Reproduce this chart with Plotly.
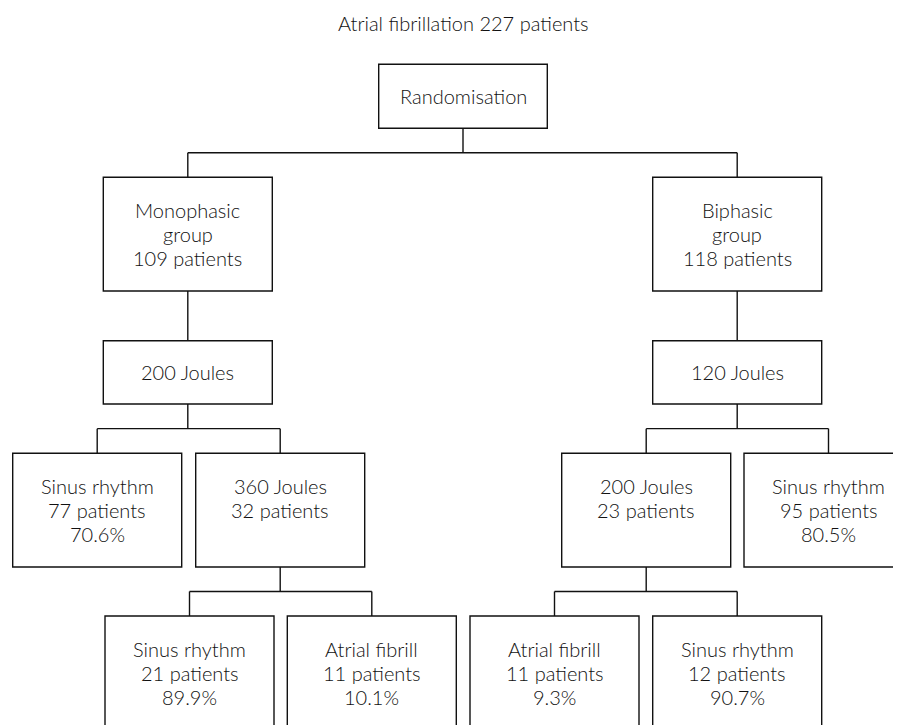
import plotly.graph_objects as go

# ---- content (data) ----
title_text = "Atrial fibrillation 227 patients"
node_ids = ["rand", "mono", "bi", "j200a", "j120", "sr77", "j360", "j200b", "sr95",
            "sr21", "af11a", "af11b", "sr12"]
node_labels = [
    "Randomisation",
    "Monophasic<br>group<br>109 patients",
    "Biphasic<br>group<br>118 patients",
    "200 Joules",
    "120 Joules",
    "Sinus rhythm<br>77 patients<br>70.6%",
    "360 Joules<br>32 patients",
    "200 Joules<br>23 patients",
    "Sinus rhythm<br>95 patients<br>80.5%",
    "Sinus rhythm<br>21 patients<br>89.9%",
    "Atrial fibrill<br>11 patients<br>10.1%",
    "Atrial fibrill<br>11 patients<br>9.3%",
    "Sinus rhythm<br>12 patients<br>90.7%",
]
edges = [("rand", ["mono", "bi"]), ("mono", ["j200a"]), ("bi", ["j120"]),
         ("j200a", ["sr77", "j360"]), ("j120", ["j200b", "sr95"]),
         ("j360", ["sr21", "af11a"]), ("j200b", ["af11b", "sr12"])]

# ---- layout geometry (pixel space) ----
box_left = {"rand": 378.7, "mono": 103.3, "bi": 652.7, "j200a": 103.3, "j120": 652.7,
            "sr77": 12.7, "j360": 195.7, "j200b": 561.7, "sr95": 744.0,
            "sr21": 105.0, "af11a": 287.3, "af11b": 470.0, "sr12": 652.7}
box_top = {"rand": 64.3, "mono": 177.3, "bi": 177.3, "j200a": 340.7, "j120": 340.7,
           "sr77": 453.3, "j360": 453.3, "j200b": 453.3, "sr95": 453.3,
           "sr21": 616.0, "af11a": 616.0, "af11b": 616.0, "sr12": 616.0}
box_w = {"rand": 168.6}
default_w = 169.0
box_h = {"rand": 64.0, "j200a": 63.3, "j120": 63.3}
default_h = 113.7
multi_line_first = 33.0
line_gap = 24.0

FONT = "Lato"
FS = 20
LW = 1.4
PAGE_OFF = 8  # default page body margin

fig = go.Figure()
shapes = []
annotations = []

def geom(n):
    l = box_left[n]; t = box_top[n]
    w = box_w.get(n, default_w); h = box_h.get(n, default_h)
    return l, t, w, h

for n, lab in zip(node_ids, node_labels):
    l, t, w, h = geom(n)
    shapes.append(dict(type="rect", xref="x", yref="y", x0=l, x1=l + w, y0=t, y1=t + h,
                       line=dict(color="#111111", width=LW), fillcolor="white", layer="above"))
    lines = lab.split("<br>")
    if len(lines) == 1:
        ys = [t + h / 2]
    else:
        ys = [t + multi_line_first + i * line_gap for i in range(len(lines))]
    for txt, yy in zip(lines, ys):
        annotations.append(dict(x=l + w / 2, y=yy, xref="x", yref="y", text=txt,
                                showarrow=False, xanchor="center", yanchor="middle",
                                font=dict(family=FONT, size=FS, color="#111111", weight=300)))

cx, cy = [], []
for p, kids in edges:
    l, t, w, h = geom(p)
    px = l + w / 2; pb = t + h
    ktops = [geom(k)[1] for k in kids]
    kcs = [geom(k)[0] + geom(k)[2] / 2 for k in kids]
    if len(kids) == 1:
        cx += [px, px, None]; cy += [pb, ktops[0], None]
    else:
        my = (pb + min(ktops)) / 2
        cx += [px, px, None]; cy += [pb, my, None]
        cx += [min(kcs), max(kcs), None]; cy += [my, my, None]
        for kx, kt in zip(kcs, ktops):
            cx += [kx, kx, None]; cy += [my, kt, None]
fig.add_trace(go.Scatter(x=cx, y=cy, mode="lines", line=dict(color="#111111", width=LW),
                         hoverinfo="skip", showlegend=False))

annotations.append(dict(x=463, y=23, xref="x", yref="y", text=title_text, showarrow=False,
                        xanchor="center", yanchor="middle",
                        font=dict(family=FONT, size=FS, color="#111111", weight=300)))

fig.update_layout(width=901 - PAGE_OFF, height=725 - PAGE_OFF, margin=dict(l=0, r=0, t=0, b=0),
                  paper_bgcolor="white", plot_bgcolor="white",
                  shapes=shapes, annotations=annotations, showlegend=False,
                  xaxis=dict(range=[PAGE_OFF, 901], visible=False, fixedrange=True),
                  yaxis=dict(range=[725, PAGE_OFF], visible=False, fixedrange=True))
fig.write_html("out.html")
